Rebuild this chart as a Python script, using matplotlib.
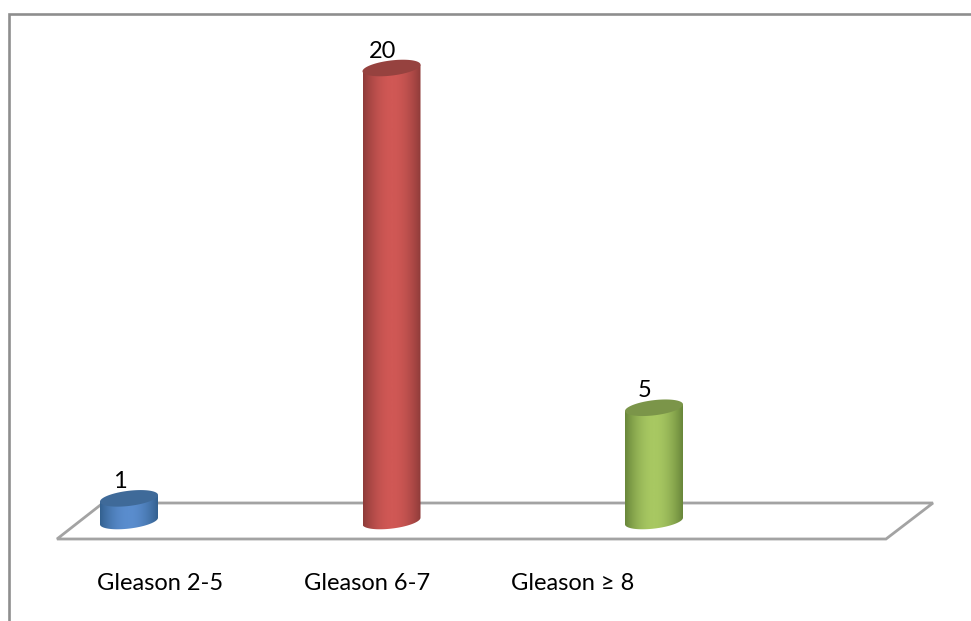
import numpy as np
import matplotlib
matplotlib.use("Agg")
import matplotlib.pyplot as plt
from matplotlib.colors import LinearSegmentedColormap
from matplotlib.patches import Polygon

categories = ["Gleason 2-5", "Gleason 6-7", "Gleason \u2265 8"]
values = [1, 20, 5]

# edge, centre and lid colour of each cylinder
edge_colors = ["#33608f", "#8e3b39", "#68863a"]
mid_colors = ["#5a8dce", "#d05855", "#a8c862"]
top_colors = ["#3f6a99", "#96423f", "#7b9549"]

W, H = 971, 621
dx = 262.5    # pixels between categories
dy = 22.65    # pixels per unit
x0, y0 = 129, 521   # where the first category sits at zero

plt.rcParams["font.family"] = ["Lato", "DejaVu Sans"]
fig = plt.figure(figsize=(W / 100, H / 100), dpi=100)
ax = fig.add_axes([0, 0, 1, 1])
xlim = (-x0 / dx, (W - x0) / dx)
ylim = ((y0 - H) / dy, y0 / dy)


def px(x, y):
    return (x - x0) / dx, (y0 - y) / dy


# frame round the chart, open at the right and bottom
frame = np.array([px(9, H), px(9, 14), px(W, 14)])
ax.plot(frame[:, 0], frame[:, 1], color="#8e8e8e", lw=1.9, solid_joinstyle="miter", zorder=1)

# floor of the 3d plot
floor = Polygon([px(57, 539), px(886, 539), px(933, 503), px(103, 503)], closed=True,
                fill=False, edgecolor="#a3a3a3", lw=2.0, joinstyle="miter", zorder=2)
ax.add_patch(floor)

half_w = 29 / dx
a = 29.0          # ellipse half width, px
b = 7.6           # ellipse half height, px
tilt = 3.3        # rise of the ellipse at its right end, px
t = np.linspace(0, 2 * np.pi, 121)
ex = a * np.cos(t) / dx
ey = (b * np.sin(t) + tilt * np.cos(t)) / dy

for i, v in enumerate(values):
    lower = t[t >= np.pi]
    k = len(t) - len(lower)
    # body outline: top half of the lid is covered later, lower half of the base closes it
    bx = np.concatenate([[i - half_w], i + ex[k:], [i + half_w]])
    by = np.concatenate([[v - tilt / dy], ey[k:], [v + tilt / dy]])
    cmap = LinearSegmentedColormap.from_list("cyl", [edge_colors[i], mid_colors[i]])
    shade = np.sin(np.linspace(0, np.pi, 128)) ** 0.9
    im = ax.imshow(shade[None, :], cmap=cmap, aspect="auto", vmin=0, vmax=1,
                   extent=(i - half_w, i + half_w, -1, v + 1), zorder=3)
    body = Polygon(np.column_stack([bx, by]), closed=True, transform=ax.transData,
                   facecolor="none", edgecolor="none")
    ax.add_patch(body)
    im.set_clip_path(body)
    lid = Polygon(np.column_stack([i + ex, v + ey]), closed=True,
                  facecolor=top_colors[i], edgecolor="none", zorder=4)
    ax.add_patch(lid)
    ax.text(i - 0.035, v + 0.74, str(v), ha="center", va="center", fontsize=17, color="black", zorder=5)

label_x = [160.5, 367.5, 572.5]
for name, lx in zip(categories, label_x):
    ax.text(*px(lx, 584), name, ha="center", va="center", fontsize=17, color="black", zorder=5)

ax.set_xlim(*xlim)
ax.set_ylim(*ylim)
ax.axis("off")
fig.savefig("out.png", dpi=100, facecolor="white")
